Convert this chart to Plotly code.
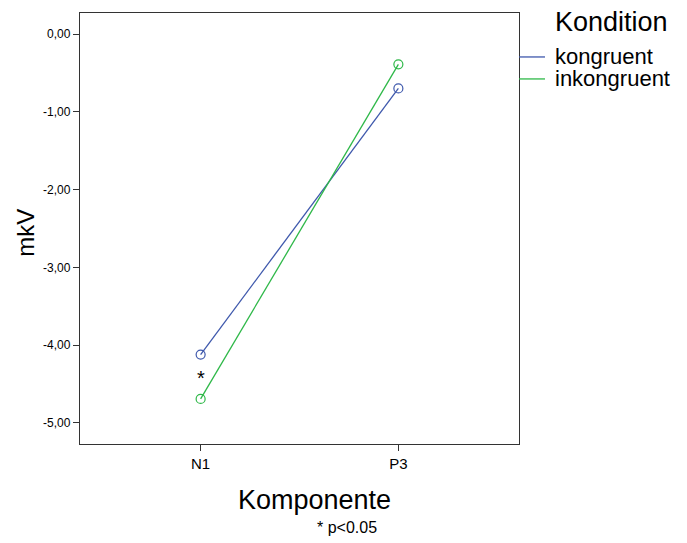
import plotly.graph_objects as go

components = ["N1", "P3"]
kongruent = [-4.12, -0.70]
inkongruent = [-4.69, -0.39]
series_names = ["kongruent", "inkongruent"]
series_colors = ["#3E58AC", "#2EB848"]
y_ticks = [0, -1, -2, -3, -4, -5]
y_tick_labels = ["0,00", "-1,00", "-2,00", "-3,00", "-4,00", "-5,00"]
star_position = ("N1", -4.39)

FONT = "Liberation Sans, Arial, Helvetica, sans-serif"

fig = go.Figure()
for name, vals, col in zip(series_names, [kongruent, inkongruent], series_colors):
    fig.add_trace(go.Scatter(
        x=components, y=vals, mode="lines+markers", name=name,
        line=dict(color=col, width=1.3),
        marker=dict(symbol="circle-open", size=9, color=col, line=dict(width=1.2, color=col)),
        showlegend=False,
    ))

fig.add_annotation(x=star_position[0], y=star_position[1], text="*", showarrow=False,
                   font=dict(family=FONT, size=20, color="black"), xref="x", yref="y", yshift=-2)

# legend (custom)
fig.add_annotation(x=1.0774, y=0.979, xref="paper", yref="paper", text="Kondition",
                   showarrow=False, xanchor="left", yanchor="middle",
                   font=dict(family=FONT, size=27, color="black"))
leg_y = [0.898, 0.847]
for name, col, yy in zip(series_names, series_colors, leg_y):
    fig.add_shape(type="line", xref="paper", yref="paper", x0=1.0, x1=1.0592, y0=yy, y1=yy,
                  line=dict(color=col, width=1.3))
    fig.add_annotation(x=1.0774, y=yy, xref="paper", yref="paper", text=name,
                       showarrow=False, xanchor="left", yanchor="middle",
                       font=dict(family=FONT, size=22, color="black"))

# axis titles
fig.add_annotation(x=0.535, y=-0.130, xref="paper", yref="paper", text="Komponente",
                   showarrow=False, xanchor="center", yanchor="middle",
                   font=dict(family=FONT, size=27, color="black"))
fig.add_annotation(x=-0.123, y=0.49, xref="paper", yref="paper", text="mkV",
                   showarrow=False, xanchor="center", yanchor="middle", textangle=-90,
                   font=dict(family=FONT, size=24, color="black"))
fig.add_annotation(x=0.608, y=-0.193, xref="paper", yref="paper", text="* p<0.05",
                   showarrow=False, xanchor="center", yanchor="middle",
                   font=dict(family=FONT, size=16, color="black"))

fig.update_layout(
    width=687, height=543,
    margin=dict(l=80, r=168, t=13, b=99),
    paper_bgcolor="white", plot_bgcolor="white",
    font=dict(family=FONT, color="black"),
    xaxis=dict(
        type="category", range=[-0.61, 1.61],
        showline=True, linecolor="#333333", linewidth=1.3, mirror=True,
        ticks="outside", ticklen=6, tickcolor="#333333", tickwidth=1.3,
        showgrid=False, zeroline=False,
        tickfont=dict(family=FONT, size=15, color="black"),
    ),
    yaxis=dict(
        range=[-5.27, 0.27],
        tickvals=y_ticks, ticktext=y_tick_labels,
        showline=True, linecolor="#333333", linewidth=1.3, mirror=True,
        ticks="outside", ticklen=6, tickcolor="#333333", tickwidth=1.3,
        showgrid=False, zeroline=False,
        tickfont=dict(family=FONT, size=12, color="black"),
    ),
)

fig.write_html("out.html")
